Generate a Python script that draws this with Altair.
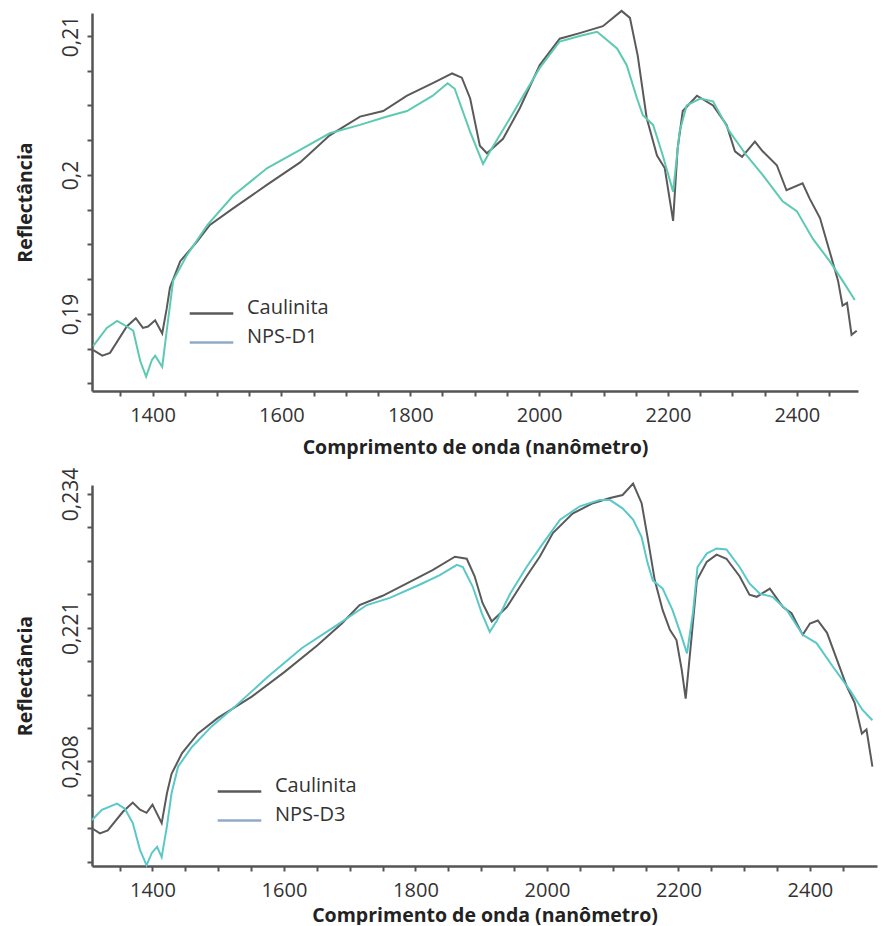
import altair as alt
import pandas as pd

# ---------------- data ----------------
series_top = ["Caulinita", "NPS-D1"]
series_bot = ["Caulinita", "NPS-D3"]

top_caul_nm = [1308, 1322, 1334, 1360, 1374, 1385, 1393, 1404, 1415, 1422, 1427, 1443, 1469, 1489,
               1525, 1578, 1629, 1675, 1722, 1758, 1795, 1835, 1865, 1880, 1893, 1908, 1919, 1944,
               1970, 2001, 2032, 2063, 2099, 2128, 2141, 2153, 2167, 2183, 2195, 2208, 2215, 2223,
               2245, 2270, 2291, 2304, 2315, 2335, 2347, 2369, 2384, 2409, 2420, 2436, 2451, 2464,
               2471, 2478, 2485, 2493]
top_caul_val = [0.1874, 0.1870, 0.1872, 0.1891, 0.1897, 0.1890, 0.1891, 0.18955, 0.1886, 0.1904,
                0.1919, 0.1938, 0.1952, 0.1964, 0.1976, 0.1993, 0.2009, 0.20285, 0.2042, 0.2046,
                0.2057, 0.2066, 0.2073, 0.2070, 0.2055, 0.2021, 0.20156, 0.2026, 0.2048, 0.2079,
                0.2098, 0.2102, 0.2107, 0.2118, 0.2113, 0.2086, 0.2041, 0.2014, 0.2005, 0.1967,
                0.2019, 0.2046, 0.2057, 0.2050, 0.2036, 0.2017, 0.2013, 0.2024, 0.2017, 0.2007,
                0.1989, 0.1994, 0.1983, 0.1969, 0.1945, 0.1924, 0.1906, 0.1908, 0.1885, 0.1888]

top_nps_nm = [1308, 1329, 1345, 1360, 1370, 1381, 1390, 1399, 1404, 1415, 1422, 1432, 1453, 1485,
              1525, 1578, 1629, 1675, 1722, 1764, 1795, 1835, 1858, 1869, 1893, 1913, 1924, 1955,
              2001, 2032, 2063, 2090, 2121, 2136, 2152, 2161, 2177, 2192, 2208, 2218, 2229, 2250,
              2270, 2296, 2322, 2347, 2378, 2400, 2425, 2451, 2471, 2490]
top_nps_val = [0.1877, 0.1890, 0.1895, 0.1891, 0.1888, 0.1866, 0.1855, 0.1867, 0.1870, 0.1862,
               0.1888, 0.1924, 0.1942, 0.1964, 0.1985, 0.2005, 0.2018, 0.2030, 0.2036, 0.2042,
               0.2046, 0.2057, 0.2066, 0.2062, 0.2031, 0.2008, 0.2017, 0.2041, 0.2077, 0.2096,
               0.2100, 0.2103, 0.2091, 0.2079, 0.2055, 0.2043, 0.2036, 0.2014, 0.1988, 0.2031,
               0.2050, 0.2055, 0.2053, 0.2031, 0.2014, 0.2000, 0.1981, 0.1974, 0.1954, 0.1938,
               0.1924, 0.1910]

bot_caul_nm = [1308, 1320, 1332, 1355, 1370, 1381, 1391, 1400, 1414, 1422, 1429, 1445, 1469, 1499,
               1551, 1601, 1651, 1688, 1715, 1750, 1787, 1826, 1860, 1878, 1890, 1902, 1916, 1939,
               1969, 1989, 2009, 2039, 2070, 2096, 2115, 2131, 2144, 2153, 2164, 2176, 2187, 2197,
               2205, 2211, 2220, 2228, 2243, 2258, 2273, 2293, 2308, 2319, 2339, 2359, 2372, 2389,
               2400, 2412, 2426, 2441, 2456, 2468, 2479, 2486, 2495]
bot_caul_val = [0.2015, 0.2010, 0.2013, 0.2031, 0.2040, 0.2033, 0.2030, 0.2038, 0.2020, 0.2049,
                0.2068, 0.2088, 0.2107, 0.2122, 0.2143, 0.2167, 0.2193, 0.2214, 0.2232, 0.2241,
                0.2253, 0.2266, 0.2279, 0.2277, 0.2260, 0.2234, 0.2216, 0.2230, 0.2260, 0.2279,
                0.2302, 0.2321, 0.2331, 0.2336, 0.2339, 0.2350, 0.2331, 0.2298, 0.2256, 0.2227,
                0.2208, 0.2198, 0.2169, 0.2141, 0.2201, 0.2256, 0.2274, 0.2281, 0.2277, 0.2260,
                0.2242, 0.2240, 0.2248, 0.2230, 0.2224, 0.2203, 0.2214, 0.2217, 0.2205, 0.2179,
                0.2153, 0.2137, 0.2107, 0.2111, 0.2075]

bot_nps_nm = [1308, 1323, 1346, 1358, 1370, 1381, 1391, 1399, 1407, 1414, 1422, 1429, 1439, 1460,
              1490, 1525, 1575, 1627, 1677, 1726, 1761, 1807, 1837, 1863, 1872, 1887, 1901, 1913,
              1924, 1944, 1969, 1994, 2020, 2050, 2080, 2096, 2115, 2131, 2144, 2153, 2161, 2176,
              2191, 2205, 2213, 2222, 2229, 2243, 2258, 2273, 2293, 2308, 2324, 2343, 2365, 2389,
              2410, 2435, 2461, 2480, 2495]
bot_nps_val = [0.2023, 0.2033, 0.2039, 0.2034, 0.2020, 0.1994, 0.1979, 0.1991, 0.1997, 0.1987,
               0.2017, 0.2049, 0.2075, 0.2094, 0.2114, 0.2133, 0.2162, 0.2190, 0.2211, 0.2232,
               0.2239, 0.2252, 0.2261, 0.2271, 0.2269, 0.2250, 0.2224, 0.2206, 0.2217, 0.2243,
               0.2269, 0.2292, 0.2315, 0.2328, 0.2334, 0.2334, 0.2326, 0.2315, 0.2298, 0.2273,
               0.2256, 0.2248, 0.2227, 0.2201, 0.2185, 0.2224, 0.2269, 0.2282, 0.2287, 0.2286,
               0.2269, 0.2253, 0.2243, 0.2240, 0.2227, 0.2203, 0.2195, 0.2172, 0.2149, 0.2130,
               0.2120]

x_ticks = [1350, 1400, 1450, 1500, 1550, 1600, 1650, 1700, 1750, 1800, 1850, 1900, 1950, 2000,
           2050, 2100, 2150, 2200, 2250, 2300, 2350, 2400, 2450]
x_labels = [1400, 1600, 1800, 2000, 2200, 2400]

top_y_ticks = [0.185, 0.1875, 0.19, 0.1925, 0.195, 0.1975, 0.2, 0.2025, 0.205, 0.2075, 0.21]
top_y_labels = [0.19, 0.2, 0.21]
bot_y_ticks = [0.19825, 0.2015, 0.20475, 0.208, 0.21125, 0.2145, 0.21775, 0.221, 0.22425,
               0.2275, 0.23075, 0.234]
bot_y_labels = [0.208, 0.221, 0.234]

GRAY = "#5a5a5a"
TEAL_TOP = "#5ec9b2"
TEAL_BOT = "#5ac8c8"
LEG_BLUE = "#8fabc9"
FONT = "Open Sans"


def make_df(nm_a, val_a, nm_b, val_b, names):
    a = pd.DataFrame({"nm": nm_a, "refl": val_a, "serie": names[0], "ord": range(len(nm_a))})
    b = pd.DataFrame({"nm": nm_b, "refl": val_b, "serie": names[1], "ord": range(len(nm_b))})
    return pd.concat([a, b], ignore_index=True)


def panel(df, names, teal, xdom, ydom, yticks, ylabels, w, h, legx, legy, xtitle_pad):
    xaxis = alt.Axis(
        values=x_ticks,
        labelExpr="indexof(" + str(x_labels) + ", datum.value) >= 0 ? datum.value + '' : ''",
        title="Comprimento de onda (nanômetro)",
        titlePadding=xtitle_pad,
    )
    yaxis = alt.Axis(
        values=yticks,
        labelExpr="indexof(" + str(ylabels) + ", datum.value) >= 0 ? replace(format(datum.value, '~g'), '.', ',') : ''",
        title="Reflectância",
        labelAngle=270,
        labelAlign="center",
        labelBaseline="bottom",
    )
    x = alt.X("nm:Q", scale=alt.Scale(domain=xdom, nice=False, zero=False), axis=xaxis)
    y = alt.Y("refl:Q", scale=alt.Scale(domain=ydom, nice=False, zero=False), axis=yaxis)
    lines = alt.Chart(df).mark_line(strokeWidth=2).encode(
        x=x,
        y=y,
        order="ord:Q",
        color=alt.Color("serie:N", scale=alt.Scale(domain=names, range=[GRAY, teal]), legend=None),
    )
    leg = alt.Chart(df).transform_filter("false").mark_line(strokeWidth=2).encode(
        x=x,
        y=y,
        stroke=alt.Stroke(
            "serie:N",
            scale=alt.Scale(domain=names, range=[GRAY, LEG_BLUE]),
            legend=alt.Legend(
                title=None,
                orient="none",
                legendX=legx,
                legendY=legy,
                symbolType="stroke",
                symbolSize=1900,
                symbolStrokeWidth=2.5,
                labelFont=FONT,
                labelFontSize=20,
                labelColor="#333333",
                labelOffset=12,
                labelBaseline="alphabetic",
                rowPadding=-14,
                padding=0,
            ),
        ),
    )
    return alt.layer(lines, leg).resolve_scale(color="independent", stroke="independent").properties(
        width=w, height=h
    )


df_top = make_df(top_caul_nm, top_caul_val, top_nps_nm, top_nps_val, series_top)
df_bot = make_df(bot_caul_nm, bot_caul_val, bot_nps_nm, bot_nps_val, series_bot)

top = panel(df_top, series_top, TEAL_TOP, [1306, 2495], [0.18446, 0.21165],
            top_y_ticks, top_y_labels, 766, 378, 96, 277, 13)
bot = panel(df_bot, series_bot, TEAL_BOT, [1308, 2502], [0.19783, 0.23487],
            bot_y_ticks, bot_y_labels, 785, 381, 124, 283, 6)

chart = alt.vconcat(top, bot, spacing=10).resolve_scale(
    x="independent", y="independent", color="independent", stroke="independent"
).resolve_legend(color="independent", stroke="independent").properties(
    padding={"left": 15, "top": 6, "right": 5, "bottom": 0}
).configure_view(stroke=None).configure_axis(
    grid=False,
    domainColor="#555555",
    domainWidth=2.5,
    tickColor="#555555",
    tickWidth=2,
    tickSize=5,
    labelFont=FONT,
    labelFontSize=20,
    labelColor="#333333",
    titleFont=FONT,
    titleFontSize=19.5,
    titleFontWeight="bold",
    titleColor="#222222",
).configure_axisY(labelPadding=6, labelFontSize=21, titlePadding=25).configure_axisX(labelPadding=9)

chart.save("out.html", embed_options={"renderer": "svg", "actions": False})
